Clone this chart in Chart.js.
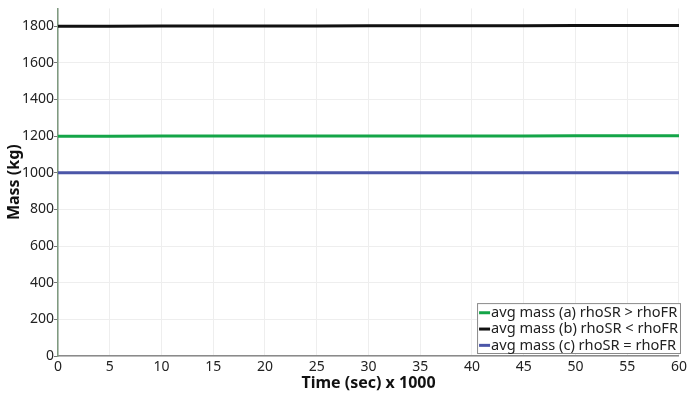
<!DOCTYPE html>
<html>
<head>
<meta charset="utf-8">
<script src="https://cdn.jsdelivr.net/npm/chart.js@4/dist/chart.umd.min.js"></script>
<style>
  html, body { margin: 0; padding: 0; background: #fff; }
  #wrap { width: 690px; height: 393px; }
</style>
</head>
<body>
<div id="wrap"><canvas id="c" width="690" height="393"></canvas></div>
<script>
// Time samples (sec x 1000)
const timeK = [0, 5, 10, 15, 20, 25, 30, 35, 40, 45, 50, 55, 60];

// Average mass (kg) for each density case
const massA = [1199.5, 1199.5, 1200, 1200, 1200, 1200.5, 1200.5, 1201, 1201, 1201, 1201.5, 1201.5, 1201.5]; // rhoSR > rhoFR
const massB = [1800, 1800, 1800.5, 1801, 1801, 1801.5, 1802, 1802, 1802, 1802.5, 1803, 1803, 1803];       // rhoSR < rhoFR
const massC = [1000, 1000, 1000, 1000, 1000, 1000.5, 1000.5, 1000.5, 1000.5, 1000.5, 1000.5, 1000.5, 1000.5]; // rhoSR = rhoFR

const seriesLabels = [
  'avg mass (a) rhoSR > rhoFR',
  'avg mass (b) rhoSR < rhoFR',
  'avg mass (c) rhoSR = rhoFR'
];
const xTicks = [0, 5, 10, 15, 20, 25, 30, 35, 40, 45, 50, 55, 60];
const yTicks = [0, 200, 400, 600, 800, 1000, 1200, 1400, 1600, 1800];

const FONT = '"Noto Sans", "DejaVu Sans", sans-serif';
const colors = ['#14a548', '#111111', '#4b56a8'];

const toPts = arr => timeK.map((t, i) => ({ x: t, y: arr[i] }));

// Legend box drawn inside the lower-right corner of the plot area
const boxLegend = {
  id: 'boxLegend',
  afterDraw(chart) {
    const ctx = chart.ctx;
    const area = chart.chartArea;
    ctx.save();
    ctx.font = '14.6px ' + FONT;
    const rowH = 16.3;
    const textW = Math.max(...chart.data.datasets.map(d => ctx.measureText(d.label).width));
    const w = 14 + textW + 3;
    const h = rowH * chart.data.datasets.length + 2;
    const right = area.right + 2;
    const bottom = area.bottom - 2;
    const left = right - w;
    const top = bottom - h;
    ctx.fillStyle = '#ffffff';
    ctx.fillRect(left, top, w, h);
    ctx.strokeStyle = '#8a8a8a';
    ctx.lineWidth = 1;
    ctx.strokeRect(left + 0.5, top + 0.5, w - 1, h - 1);
    chart.data.datasets.forEach((d, i) => {
      const cy = top + 1.5 + rowH * i + rowH / 2;
      ctx.strokeStyle = d.borderColor;
      ctx.lineWidth = 3;
      ctx.beginPath();
      ctx.moveTo(left + 2, cy);
      ctx.lineTo(left + 13, cy);
      ctx.stroke();
      ctx.fillStyle = '#222';
      ctx.textBaseline = 'middle';
      ctx.fillText(d.label, left + 14, cy);
    });
    ctx.restore();
  }
};

new Chart(document.getElementById('c'), {
  type: 'line',
  data: {
    datasets: [massA, massB, massC].map((arr, i) => ({
      label: seriesLabels[i],
      data: toPts(arr),
      borderColor: colors[i],
      backgroundColor: colors[i],
      borderWidth: 3,
      pointRadius: 0,
      tension: 0,
      fill: false
    }))
  },
  options: {
    responsive: false,
    animation: false,
    layout: { padding: { top: 6, right: 10, left: 0, bottom: 0 } },
    plugins: { legend: { display: false }, tooltip: { enabled: false } },
    scales: {
      x: {
        type: 'linear',
        min: 0,
        max: 60,
        afterBuildTicks: s => { s.ticks = xTicks.map(v => ({ value: v })); },
        afterFit: s => { s.height = 37; },
        grid: { color: '#eeeeee', drawTicks: false },
        border: { color: '#8a8a8a', width: 1.5 },
        ticks: {
          color: '#222', font: { family: FONT, size: 14 }, padding: 3, maxRotation: 0,
          callback: v => String(v)
        },
        title: {
          display: true,
          text: 'Time (sec) x 1000',
          color: '#111',
          font: { family: FONT, size: 16, weight: 'bold' },
          padding: { top: 0, bottom: 0 }
        }
      },
      y: {
        type: 'linear',
        min: 0,
        max: 1897,
        afterBuildTicks: s => { s.ticks = yTicks.map(v => ({ value: v })); },
        afterFit: s => { s.width = 58; },
        grid: { color: '#eeeeee', tickColor: '#777', tickLength: 4 },
        border: { color: '#7f9a80', width: 1.5 },
        ticks: {
          color: '#222', font: { family: FONT, size: 14 }, padding: 0,
          callback: v => String(v)
        },
        title: {
          display: true,
          text: 'Mass (kg)',
          color: '#111',
          font: { family: FONT, size: 16, weight: 'bold' },
          padding: { top: 5, bottom: 2 }
        }
      }
    }
  },
  plugins: [boxLegend]
});
</script>
</body>
</html>
